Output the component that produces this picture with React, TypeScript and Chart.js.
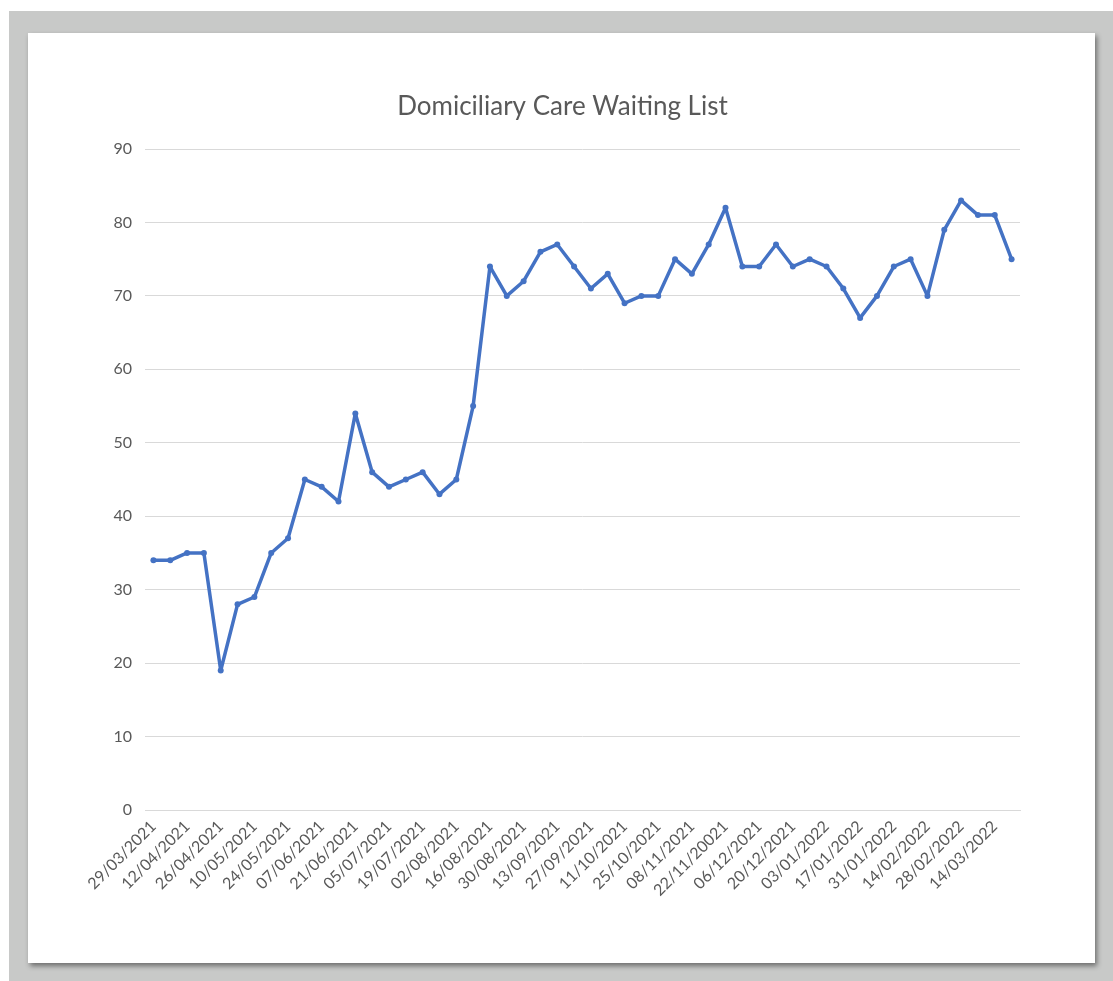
import React, { useEffect, useRef } from "react";
import { Chart, registerables } from "chart.js";

Chart.register(...registerables);

const weekLabels: string[] = [
  "29/03/2021", "05/04/2021", "12/04/2021", "19/04/2021", "26/04/2021", "03/05/2021",
  "10/05/2021", "17/05/2021", "24/05/2021", "31/05/2021", "07/06/2021", "14/06/2021",
  "21/06/2021", "28/06/2021", "05/07/2021", "12/07/2021", "19/07/2021", "26/07/2021",
  "02/08/2021", "09/08/2021", "16/08/2021", "23/08/2021", "30/08/2021", "06/09/2021",
  "13/09/2021", "20/09/2021", "27/09/2021", "04/10/2021", "11/10/2021", "18/10/2021",
  "25/10/2021", "01/11/2021", "08/11/2021", "15/11/2021", "22/11/20021", "29/11/2021",
  "06/12/2021", "13/12/2021", "20/12/2021", "27/12/2021", "03/01/2022", "10/01/2022",
  "17/01/2022", "24/01/2022", "31/01/2022", "07/02/2022", "14/02/2022", "21/02/2022",
  "28/02/2022", "07/03/2022", "14/03/2022", "21/03/2022",
];

const waitingList: number[] = [
  34, 34, 35, 35, 19, 28, 29, 35, 37, 45, 44, 42,
  54, 46, 44, 45, 46, 43, 45, 55, 74, 70, 72, 76,
  77, 74, 71, 73, 69, 70, 70, 75, 73, 77, 82, 74,
  74, 77, 74, 75, 74, 71, 67, 70, 74, 75, 70, 79,
  83, 81, 81, 75,
];

const yTicks = { min: 0, max: 90, step: 10 };
const chartTitle = "Domiciliary Care Waiting List";

const FONT = "Lato, 'Open Sans', sans-serif";
const TEXT = "#595959";
const LINE = "#4472c4";
const GRID = "#d9d9d9";

const titlePlugin = {
  id: "centeredTitle",
  afterDraw(chart: any) {
    const ctx = chart.ctx;
    ctx.save();
    ctx.font = `normal 26px ${FONT}`;
    ctx.fillStyle = TEXT;
    ctx.textAlign = "center";
    ctx.textBaseline = "middle";
    ctx.fillText(chartTitle, chart.width / 2 + 1, 74);
    ctx.restore();
  },
};

export default function App() {
  const ref = useRef<HTMLCanvasElement | null>(null);

  useEffect(() => {
    if (!ref.current) return;
    const chart = new Chart(ref.current, {
      type: "line",
      data: {
        labels: weekLabels,
        datasets: [
          {
            label: "Waiting list",
            data: waitingList,
            borderColor: LINE,
            backgroundColor: LINE,
            borderWidth: 3.5,
            borderJoinStyle: "round",
            borderCapStyle: "round",
            pointRadius: 3,
            pointBorderWidth: 0,
            pointBackgroundColor: LINE,
            tension: 0,
          },
        ],
      },
      options: {
        responsive: false,
        animation: false,
        layout: { padding: { left: 0, right: 75, top: 116, bottom: 0 } },
        plugins: {
          legend: { display: false },
          tooltip: { enabled: false },
          title: { display: false },
        },
        scales: {
          x: {
            offset: true,
            grid: { display: false, drawTicks: false },
            border: { display: true, color: GRID, width: 1 },
            ticks: {
              autoSkip: false,
              maxRotation: 45,
              minRotation: 45,
              padding: 7,
              color: TEXT,
              font: { family: FONT, size: 16 },
              callback: (_v: any, i: number) => (i % 2 === 0 ? weekLabels[i] : ""),
            },
            afterFit: (s: any) => {
              s.height = 153;
            },
          },
          y: {
            min: yTicks.min,
            max: yTicks.max,
            grid: { color: GRID, drawTicks: false, lineWidth: 1 },
            border: { display: false },
            ticks: {
              stepSize: yTicks.step,
              padding: 13,
              color: TEXT,
              font: { family: FONT, size: 16 },
            },
            afterFit: (s: any) => {
              s.width = 117;
            },
          },
        },
      },
      plugins: [titlePlugin],
    });
    return () => chart.destroy();
  }, []);

  return (
    <div
      style={{
        position: "fixed",
        left: 9,
        top: 11,
        right: 0,
        bottom: 0,
        background: "#c8c9c8",
      }}
    >
      <div
        style={{
          position: "absolute",
          left: 19,
          top: 22,
          width: 1067,
          height: 930,
          background: "#ffffff",
          boxShadow: "2px 3px 5px rgba(0,0,0,0.45)",
        }}
      >
        <canvas ref={ref} width={1067} height={930} style={{ display: "block" }} />
      </div>
    </div>
  );
}
